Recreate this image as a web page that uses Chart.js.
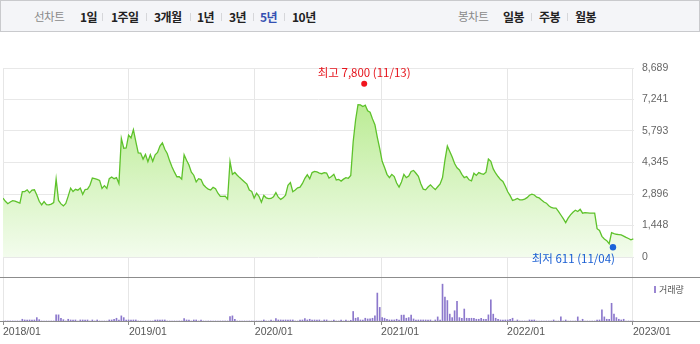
<!DOCTYPE html>
<html lang="ko">
<head>
<meta charset="utf-8">
<title>5년 차트</title>
<script src="https://cdn.jsdelivr.net/npm/chart.js@4.4.1/dist/chart.umd.min.js"></script>
<style>
    html, body { margin: 0; padding: 0; background: #fff; }
    body { width: 700px; height: 344px; position: relative; overflow: hidden; font-family: "Noto Sans CJK KR", sans-serif; }
    .bar { position: absolute; left: 0; top: 0; width: 698px; height: 30px; border: 1px solid #c9cacd; background: #f4f5f8; }
    .bar span { position: absolute; top: 0; line-height: 31px; font-size: 12px; font-weight: 700; color: #222; letter-spacing: -0.5px; white-space: nowrap; }
    .bar span.lbl { font-weight: 400; color: #8a8a8a; font-size: 11.5px; }
    .bar span.on { color: #3451b2; }
    .bar i { position: absolute; top: 12px; width: 1px; height: 8px; background: #d6d7da; }
    #pw { position: absolute; left: 0; top: 45px; width: 700px; height: 232px; }
    #vw { position: absolute; left: 0; top: 276px; width: 700px; height: 68px; }
    .vlegend { position: absolute; left: 654px; top: 286px; width: 2px; height: 7px; background: #9a86d2; }
    .vlegend-t { position: absolute; left: 659px; top: 283px; font-size: 9px; line-height: 13px; color: #555; }
</style>
</head>
<body>
<div class="bar">
    <span class="lbl" style="left:33px">선차트</span>
    <span style="left:79px">1일</span><i style="left:101px"></i>
    <span style="left:110px">1주일</span><i style="left:145px"></i>
    <span style="left:153px">3개월</span><i style="left:189px"></i>
    <span style="left:196px">1년</span><i style="left:220px"></i>
    <span style="left:228px">3년</span><i style="left:252px"></i>
    <span class="on" style="left:259px">5년</span><i style="left:283px"></i>
    <span style="left:291px">10년</span>
    <span class="lbl" style="left:457px">봉차트</span>
    <span style="left:502px">일봉</span><i style="left:530px"></i>
    <span style="left:538px">주봉</span><i style="left:566px"></i>
    <span style="left:574px">월봉</span>
</div>
<div id="pw"><canvas id="priceChart"></canvas></div>
<div id="vw"><canvas id="volChart"></canvas></div>
<div class="vlegend"></div>
<div class="vlegend-t">거래량</div>

<script>
(function() {
    'use strict';

    // 주간 종가, 2018-01-01 부터 1주 간격
    const startDate = '2018-01-01';
    const endDate = '2023-01-04';
    const yearTicks = ['2018/01', '2019/01', '2020/01', '2021/01', '2022/01', '2023/01'];
    const priceTicks = [0, 1448, 2896, 4345, 5793, 7241, 8689];

    const prices = [
        2706, 2560, 2450, 2530, 2590, 2567, 2520, 2475, 3010, 3010,
        3089, 2950, 3080, 3089, 2850, 2560, 2397, 2550, 2410, 2397,
        2430, 2500, 3582, 2600, 2440, 2351, 2460, 2800, 3167, 3010,
        3110, 3070, 3167, 2880, 3100, 3120, 3300, 3628, 3600, 3570,
        3520, 3150, 3280, 3150, 3600, 3680, 3600, 3650, 3380, 5450,
        5000, 5011, 5600, 5472, 5855, 5300, 4790, 4781, 4500, 4720,
        4380, 4700, 4400, 4700, 4808, 5100, 5250, 4950, 4760, 4420,
        4140, 3900, 3690, 3690, 3580, 4702, 4450, 4230, 3900, 3760,
        3450, 3600, 3560, 3320, 3210, 3120, 3080, 3200, 3140, 2930,
        2790, 2790, 2800, 2660, 4393, 3800, 3886, 3760, 3650, 3550,
        3450, 3350, 3080, 3010, 2706, 2936, 2790, 2520, 2830, 2720,
        2680, 2690, 2770, 2960, 2750, 2650, 2720, 2840, 3300, 3420,
        3000, 3080, 3180, 3213, 3380, 3620, 3780, 3600, 3880, 3932,
        3910, 3858, 3830, 3880, 3860, 3630, 3700, 3800, 3540, 3570,
        3490, 3580, 3650, 3620, 3750, 5300, 6300, 7000, 6990, 6920,
        6980, 6720, 6652, 6350, 6080, 5500, 4980, 4400, 4110, 3800,
        3650, 3800, 3700, 3400, 3213, 3450, 3800, 3650, 3720, 3930,
        3980, 3850, 3710, 3370, 3120, 3089, 3220, 3319, 3200, 3100,
        3230, 3360, 3650, 4450, 5100, 4854, 4600, 4300, 4100, 4000,
        3800, 3650, 3700, 3550, 3500, 3850, 3750, 3880, 3830, 3800,
        3900, 4500, 4400, 4050, 3850, 3700, 3560, 3471, 3250, 3000,
        2820, 2600, 2640, 2690, 2628, 2628, 2660, 2730, 2840, 2890,
        2850, 2750, 2715, 2620, 2530, 2475, 2360, 2280, 2245, 2245,
        2100, 1930, 1760, 1581, 1784, 1936, 2060, 2150, 2090, 2190,
        2015, 2040, 2030, 2015, 2015, 2015, 1300, 1220, 950, 830,
        750, 611, 1120, 1080, 1046, 1030, 1014, 960, 900, 850,
        790, 830
    ];

    const volumes = [
        0, 0, 0, 0, 0, 0, 0, 0, 170, 100,
        100, 100, 100, 100, 330, 130, 0, 0, 0, 0,
        0, 0, 600, 600, 270, 130, 0, 170, 100, 100,
        100, 0, 100, 100, 100, 100, 0, 100, 0, 100,
        0, 0, 0, 0, 100, 100, 170, 270, 100, 500,
        330, 100, 100, 100, 100, 100, 0, 0, 0, 0,
        0, 0, 0, 100, 100, 100, 100, 100, 0, 0,
        0, 0, 0, 0, 0, 230, 100, 100, 0, 100,
        100, 0, 100, 0, 0, 0, 0, 0, 0, 0,
        0, 0, 0, 0, 430, 500, 170, 0, 0, 0,
        0, 0, 0, 0, 0, 0, 0, 0, 100, 0,
        0, 100, 0, 230, 100, 100, 100, 100, 100, 100,
        100, 0, 0, 100, 100, 230, 100, 170, 100, 100,
        100, 100, 0, 100, 100, 0, 0, 100, 0, 0,
        100, 0, 100, 0, 70, 930, 270, 330, 100, 100,
        270, 200, 200, 270, 500, 2730, 1330, 330, 270, 170,
        100, 100, 100, 170, 100, 570, 570, 270, 330, 570,
        200, 100, 100, 100, 100, 100, 100, 100, 0, 100,
        400, 100, 3600, 2330, 2000, 670, 330, 1000, 1930, 330,
        270, 1170, 270, 270, 270, 270, 170, 170, 270, 170,
        170, 600, 2070, 670, 270, 170, 100, 100, 100, 100,
        170, 270, 0, 100, 0, 0, 0, 0, 100, 100,
        100, 0, 0, 0, 0, 0, 0, 0, 100, 0,
        0, 400, 0, 100, 0, 0, 0, 0, 400, 0,
        170, 0, 0, 0, 0, 0, 100, 100, 1100, 400,
        170, 170, 1730, 670, 330, 170, 100, 170, 0, 0,
        0, 0
    ];

    const highValue = 7800;
    const highDate = '2020-11-13';
    const lowValue = 611;
    const lowDate = '2022-11-04';

    const TICK_FONT = { family: '"Liberation Sans", Arial, sans-serif', size: 10.5 };

    // 날짜 -> 시작일 기준 일수
    function dayOf(str) {
        const p = str.split(/[-\/]/).map(Number);
        const s = startDate.split('-').map(Number);
        return (Date.UTC(p[0], p[1] - 1, p[2] || 1) - Date.UTC(s[0], s[1] - 1, s[2])) / 86400000;
    }

    const xMax = dayOf(endDate);
    const yearTickBuilder = function(scale) {
        scale.ticks = yearTicks.map(function(t) { return { value: dayOf(t) }; });
    };

    const priceData = prices.map(function(p, i) { return { x: i * 7, y: p }; });
    const volumeData = volumes.map(function(v, i) { return { x: i * 7, y: v }; });

    // 최고/최저 표시
    const markPlugin = {
        id: 'highLowMarks',
        afterDatasetsDraw: function(chart) {
            const ctx = chart.ctx;
            const xs = chart.scales.x;
            const ys = chart.scales.y;
            ctx.save();
            ctx.font = '11.5px "Noto Sans CJK KR", sans-serif';
            ctx.textBaseline = 'middle';

            let px = xs.getPixelForValue(dayOf(highDate));
            let py = ys.getPixelForValue(highValue) - 3.5;
            ctx.fillStyle = '#f0141e';
            ctx.beginPath();
            ctx.arc(px, py, 3, 0, Math.PI * 2);
            ctx.fill();
            ctx.fillStyle = '#e6141c';
            ctx.textAlign = 'center';
            ctx.fillText('최고 ' + highValue.toLocaleString('en-US') + ' (' + highDate.slice(5).replace('-', '/') + ')', px, py - 11);

            px = xs.getPixelForValue(dayOf(lowDate));
            py = ys.getPixelForValue(lowValue) + 3.5;
            ctx.fillStyle = '#1d63d9';
            ctx.beginPath();
            ctx.arc(px, py, 3.2, 0, Math.PI * 2);
            ctx.fill();
            ctx.fillStyle = '#1a5fd3';
            ctx.textAlign = 'right';
            ctx.fillText('최저 ' + lowValue.toLocaleString('en-US') + ' (' + lowDate.slice(5).replace('-', '/') + ')', px + 2, py + 11);
            ctx.restore();
        }
    };

    // 거래량 영역 위/아래 구분선
    const panelLines = {
        id: 'panelLines',
        afterDraw: function(chart) {
            const ctx = chart.ctx;
            const a = chart.chartArea;
            ctx.save();
            ctx.strokeStyle = '#8c8c8c';
            ctx.lineWidth = 1;
            ctx.beginPath();
            ctx.moveTo(0, Math.round(a.top) + 0.5);
            ctx.lineTo(chart.width, Math.round(a.top) + 0.5);
            ctx.moveTo(0, Math.round(a.bottom) + 0.5);
            ctx.lineTo(chart.width, Math.round(a.bottom) + 0.5);
            ctx.stroke();
            ctx.restore();
        }
    };

    new Chart(document.getElementById('priceChart'), {
        type: 'line',
        data: {
            datasets: [{
                data: priceData,
                borderColor: '#5ec22b',
                borderWidth: 1.3,
                pointRadius: 0,
                tension: 0,
                fill: 'origin',
                backgroundColor: function(context) {
                    const area = context.chart.chartArea;
                    if (!area) {
                        return 'transparent';
                    }
                    const g = context.chart.ctx.createLinearGradient(0, area.top, 0, area.bottom);
                    g.addColorStop(0, '#aee880');
                    g.addColorStop(1, '#f3fced');
                    return g;
                }
            }]
        },
        options: {
            responsive: true,
            maintainAspectRatio: false,
            animation: false,
            layout: { padding: { top: 23, left: 3, right: 0, bottom: 0 } },
            plugins: {
                legend: { display: false },
                tooltip: { enabled: false }
            },
            scales: {
                x: {
                    type: 'linear',
                    min: 0,
                    max: xMax,
                    afterBuildTicks: yearTickBuilder,
                    afterFit: function(scale) { scale.height = 20; },
                    ticks: { display: false },
                    grid: { color: '#e6e6e6', tickLength: 20, tickColor: '#e6e6e6' },
                    border: { display: false }
                },
                y: {
                    position: 'right',
                    min: 0,
                    max: priceTicks[priceTicks.length - 1],
                    afterBuildTicks: function(scale) {
                        scale.ticks = priceTicks.map(function(v) { return { value: v }; });
                    },
                    afterFit: function(scale) { scale.width = 66; },
                    ticks: {
                        padding: 8,
                        color: '#666',
                        font: TICK_FONT,
                        callback: function(value) { return value.toLocaleString('en-US'); }
                    },
                    grid: { color: '#e8e8e8', drawTicks: false },
                    border: { display: false }
                }
            }
        },
        plugins: [markPlugin]
    });

    new Chart(document.getElementById('volChart'), {
        type: 'bar',
        data: {
            datasets: [{
                data: volumeData,
                backgroundColor: '#8c78cc',
                borderWidth: 0,
                barThickness: 1
            }]
        },
        options: {
            responsive: true,
            maintainAspectRatio: false,
            animation: false,
            layout: { padding: { top: 1, left: 3, right: 66, bottom: 0 } },
            plugins: {
                legend: { display: false },
                tooltip: { enabled: false }
            },
            scales: {
                x: {
                    type: 'linear',
                    offset: false,
                    min: 0,
                    max: xMax,
                    afterBuildTicks: yearTickBuilder,
                    afterFit: function(scale) { scale.height = 23; },
                    ticks: {
                        align: 'start',
                        padding: 1,
                        color: '#555',
                        font: TICK_FONT,
                        autoSkip: false,
                        maxRotation: 0,
                        callback: function(value, index) { return yearTicks[index]; }
                    },
                    grid: { offset: false, color: '#e6e6e6', tickLength: 4, tickColor: '#8c8c8c' },
                    border: { display: false }
                },
                y: {
                    display: false,
                    min: 0,
                    max: 4300
                }
            }
        },
        plugins: [panelLines]
    });
})();
</script>
</body>
</html>
